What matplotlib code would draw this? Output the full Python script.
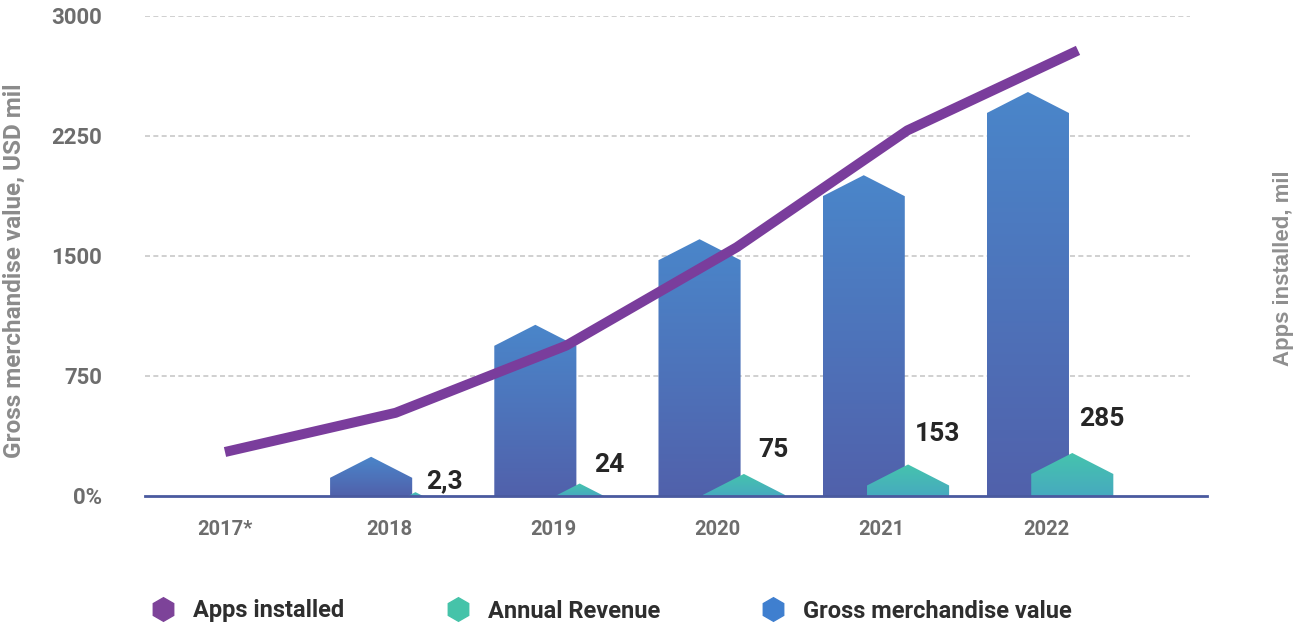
import numpy as np
import matplotlib
matplotlib.use('Agg')
import matplotlib.pyplot as plt
from matplotlib.patches import Polygon
from matplotlib.colors import LinearSegmentedColormap
from matplotlib.lines import Line2D

plt.rcParams['font.family'] = ['Roboto', 'DejaVu Sans']

# Daten
years = ['2017*', '2018', '2019', '2020', '2021', '2022']
apps_installed = [275, 520, 940, 1555, 2285, 2785]
bar_years = ['2018', '2019', '2020', '2021', '2022']
gmv = [245, 1070, 1605, 2005, 2525]
revenue = [2.3, 24, 75, 153, 285]

W, H = 1295, 628
fig = plt.figure(figsize=(W / 100, H / 100), dpi=100)
rect = [145 / W, (H - 496) / H, 1062 / W, 480 / H]

ax = fig.add_axes(rect)
ax.set_xlim(-80 / 164.2, 982 / 164.2)
ax.set_ylim(0, 3000)

# Umsatz auf eigener (Wurzel-)Skala, nur fuer die Hoehe der tuerkisen Balken
rev_ax = ax.twinx()
rev_ax.set_yscale('function', functions=(np.sqrt, np.square))
rev_ax.set_ylim(0, 35500)
rev_ax.set_axis_off()

ROOF = 21  # Hoehe der Spitze in Pixeln


def hex_bar(val_ax, xc, width, value, c_top, c_bottom, z):
    xl, yb = ax.transData.transform((xc - width / 2, 0))
    xr, _ = ax.transData.transform((xc + width / 2, 0))
    yt = val_ax.transData.transform((xc, value))[1]
    xm = (xl + xr) / 2
    h = yt - yb
    if h >= ROOF:
        pts = [(xl, yb), (xl, yt - ROOF), (xm, yt), (xr, yt - ROOF), (xr, yb)]
    else:
        w = (xr - xl) / 2 * h / ROOF
        pts = [(xm - w, yb), (xm, yt), (xm + w, yb)]
    pts = ax.transData.inverted().transform(pts)
    poly = Polygon(pts, closed=True, facecolor='none', edgecolor='none')
    ax.add_patch(poly)
    cmap = LinearSegmentedColormap.from_list('grad', [c_bottom, c_top])
    im = ax.imshow(np.linspace(0, 1, 256).reshape(-1, 1), cmap=cmap,
                   origin='lower', aspect='auto', interpolation='bilinear',
                   extent=(pts[:, 0].min(), pts[:, 0].max(), 0, pts[:, 1].max()),
                   zorder=z)
    im.set_clip_path(poly)


xpos = [years.index(y) for y in bar_years]
for x, g in zip(xpos, gmv):
    hex_bar(ax, x - 0.11, 0.5, g, '#4a86ca', '#5161ab', 2)
for x, r in zip(xpos, revenue):
    hex_bar(rev_ax, x + 0.16, 0.5, r, '#45c4ad', '#47aabf', 3)

# Werte Umsatz
for k, (x, r) in enumerate(zip(xpos, revenue)):
    ax.annotate(f'{r:g}'.replace('.', ','), xy=(x, 0),
                xytext=(40, 11 + 11.2 * k), textcoords='offset points',
                ha='center', va='center', fontsize=19, fontweight='bold',
                color='#262626', zorder=5)

# Gitter und Grundlinie
ax.hlines([750, 1500, 2250, 3000], 0, (1190 - 145) / 1062,
          transform=ax.get_yaxis_transform(), colors='#c8c8c8',
          linestyles=(0, (3, 2)), lw=1.2, zorder=1)
ax.axhline(0, color='#4a5a9f', lw=2, clip_on=False, zorder=4)

for s in ax.spines.values():
    s.set_visible(False)
ax.set_yticks([0, 750, 1500, 2250, 3000])
ax.set_yticklabels(['0%', '750', '1500', '2250', '3000'])
ax.set_xticks(range(len(years)))
ax.set_xticklabels(years)
ax.tick_params(axis='y', length=0, pad=31, labelsize=16, labelcolor='#6d6d6d')
ax.tick_params(axis='x', length=0, pad=17, labelsize=14.5, labelcolor='#6d6d6d')
for lab in ax.get_xticklabels() + ax.get_yticklabels():
    lab.set_fontweight('bold')

# Linie: installierte Apps
ax_line = fig.add_axes(rect)
ax_line.set_xlim(-80 / 170.6, 982 / 170.6)
ax_line.set_ylim(0, 3000)
ax_line.set_axis_off()
ax_line.plot(range(len(years)), apps_installed, color='#7a3d9c', lw=7.2,
             solid_capstyle='butt', solid_joinstyle='round')

# Achsentitel
fig.text(14 / W, 1 - 271 / H, 'Gross merchandise value, USD mil', rotation=90,
         ha='center', va='center', fontsize=17.5, fontweight='bold', color='#8b8b8b')
fig.text(1283 / W, 1 - 268 / H, 'Apps installed, mil', rotation=90,
         ha='center', va='center', fontsize=16, fontweight='bold',
         color='#8f8f8f', family=['Liberation Sans', 'DejaVu Sans'])

# Legende
handles = [Line2D([], [], ls='none', marker='h', ms=17, color=c)
           for c in ['#7d4399', '#45c3a9', '#3f7fcf']]
fig.legend(handles, ['Apps installed', 'Annual Revenue', 'Gross merchandise value'],
           loc='center left', bbox_to_anchor=((163 - 11.8) / W, 1 - 611 / H),
           ncol=3, frameon=False, borderpad=0, borderaxespad=0, handlelength=1.0,
           handletextpad=0.77, columnspacing=4.3,
           prop={'size': 17, 'weight': 'bold'}, labelcolor='#2e2e2e')

fig.savefig('out.png', dpi=100)
